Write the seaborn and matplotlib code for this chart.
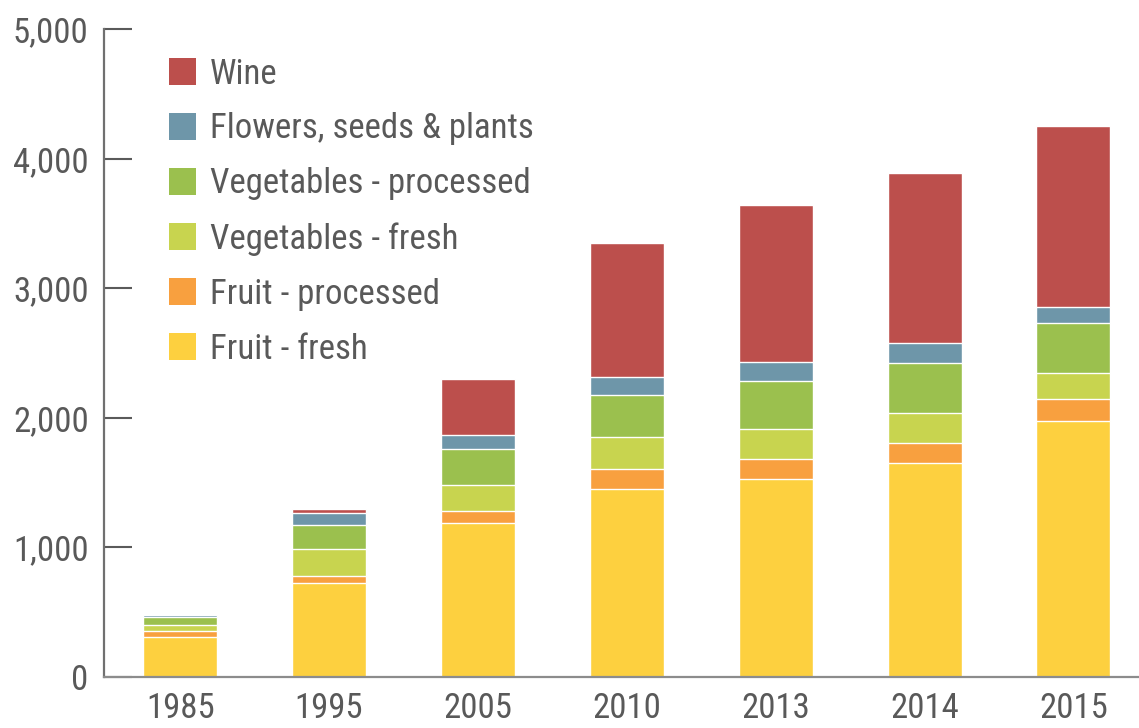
import matplotlib
matplotlib.use("Agg")
import numpy as np
import pandas as pd
import matplotlib.pyplot as plt
from matplotlib import font_manager
from matplotlib.font_manager import FontProperties
from matplotlib.patches import Patch
from matplotlib.ticker import FuncFormatter
import seaborn as sns

years = ["1985", "1995", "2005", "2010", "2013", "2014", "2015"]

fruit_fresh = [306, 722, 1185, 1450, 1527, 1650, 1974]
fruit_processed = [46, 59, 93, 154, 154, 154, 172]
veg_fresh = [49, 204, 202, 246, 231, 231, 200]
veg_processed = [59, 185, 278, 324, 370, 386, 386]
flowers = [16, 92, 106, 139, 152, 154, 121]
wine = [0, 31, 434, 1035, 1207, 1313, 1405]

categories = ["Fruit - fresh", "Fruit - processed", "Vegetables - fresh",
              "Vegetables - processed", "Flowers, seeds & plants", "Wine"]
colors = ["#FDD03F", "#F8A03F", "#C8D44F", "#9BC04E", "#6E96A9", "#BC4F4C"]

df = pd.DataFrame(dict(zip(categories, [fruit_fresh, fruit_processed, veg_fresh,
                                        veg_processed, flowers, wine])), index=years)
cum = df.cumsum(axis=1)

sns.set_style("white")

# the original uses a condensed sans; pick one if the machine has it
installed = {f.name for f in font_manager.fontManager.ttflist}
narrow = [n for n in ["Liberation Sans Narrow", "Roboto Condensed", "Arial Narrow",
                      "Open Sans Condensed", "DejaVu Sans Condensed"] if n in installed]
fsize, xsize = 25, 25
if narrow:
    plt.rcParams["font.family"] = [narrow[0], "DejaVu Sans"]
else:
    path = font_manager.findfont(FontProperties(family="DejaVu Sans", stretch="condensed"))
    plt.rcParams["font.family"] = ["DejaVu Sans"]
    if "Condensed" in path:
        plt.rcParams["font.stretch"] = "condensed"
    else:
        fsize, xsize = 20, 20
text_grey = "#595959"

fig = plt.figure(figsize=(11.39, 7.28), dpi=100)
ax = fig.add_axes([0.0913, 0.0705, 0.9087, 0.889])

# tallest cumulative layer first, lower layers painted over it
for cat, col in zip(categories[::-1], colors[::-1]):
    sns.barplot(x=years, y=cum[cat].values, color=col, saturation=1,
                width=0.497, errorbar=None, ax=ax)

ax.set_ylim(0, 5000)
ax.set_xlim(-0.512, 6.44)
ax.set_yticks(np.arange(0, 5001, 1000))
ax.yaxis.set_major_formatter(FuncFormatter(lambda v, p: f"{int(v):,}"))

for s in ["top", "right"]:
    ax.spines[s].set_visible(False)
ax.spines["left"].set_color("#707070")
ax.spines["left"].set_linewidth(1.6)
ax.spines["bottom"].set_color("#8c8c8c")
ax.spines["bottom"].set_linewidth(1.6)

ax.tick_params(axis="y", direction="in", length=20, width=1.5, color="#5a5a5a",
               labelsize=fsize, labelcolor=text_grey, pad=11, left=True)
ax.tick_params(axis="x", length=0, labelsize=xsize, labelcolor=text_grey, pad=11)
ax.set_xlabel("")
ax.set_ylabel("")

handles = [Patch(facecolor=c, edgecolor="none", label=n)
           for n, c in zip(categories[::-1], colors[::-1])]
ax.legend(handles=handles, loc="upper left", bbox_to_anchor=(0.049, 0.978),
          frameon=False, fontsize=fsize, labelcolor=text_grey,
          handlelength=0.8, handleheight=0.8, handletextpad=0.4,
          labelspacing=0.63, borderaxespad=0)

fig.savefig("out.png", dpi=100)
